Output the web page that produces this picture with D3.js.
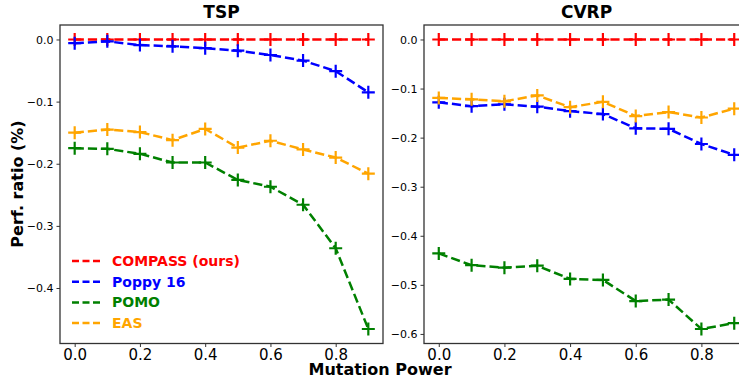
<!DOCTYPE html>
<html>
<head>
<meta charset="utf-8">
<script src="https://cdn.jsdelivr.net/npm/d3@7"></script>
<style>
  body { margin: 0; background: #fff; }
  svg { font-family: "DejaVu Sans", sans-serif; }
</style>
</head>
<body>
<script>
// mutation power levels (shared x values)
const mutation = [0, 0.1, 0.2, 0.3, 0.4, 0.5, 0.6, 0.7, 0.8, 0.9];
const xTicks = [0, 0.2, 0.4, 0.6, 0.8];

const seriesNames = ['COMPASS (ours)', 'Poppy 16', 'POMO', 'EAS'];
const seriesColors = ['red', 'blue', 'green', 'orange'];

// TSP
const tspCompass = [0, 0, 0, 0, 0, 0, 0, 0, 0, 0];
const tspPoppy = [-0.006, -0.003, -0.009, -0.011, -0.014, -0.018, -0.025, -0.034, -0.051, -0.085];
const tspPomo = [-0.175, -0.176, -0.184, -0.198, -0.198, -0.226, -0.237, -0.266, -0.336, -0.466];
const tspEas = [-0.150, -0.145, -0.149, -0.162, -0.144, -0.174, -0.163, -0.177, -0.190, -0.216];
const tspTicks = [0, -0.1, -0.2, -0.3, -0.4];

// CVRP
const cvrpCompass = [0, 0, 0, 0, 0, 0, 0, 0, 0, 0];
const cvrpPoppy = [-0.128, -0.136, -0.132, -0.137, -0.146, -0.152, -0.181, -0.182, -0.213, -0.235];
const cvrpPomo = [-0.436, -0.460, -0.465, -0.461, -0.488, -0.490, -0.533, -0.530, -0.590, -0.578];
const cvrpEas = [-0.119, -0.122, -0.126, -0.114, -0.138, -0.127, -0.156, -0.148, -0.159, -0.141];
const cvrpTicks = [0, -0.1, -0.2, -0.3, -0.4, -0.5, -0.6];

const width = 739, height = 379;
const svg = d3.select('body').append('svg')
  .attr('width', width)
  .attr('height', height);

const plotTop = 25, plotBottom = 343.5;

function panel(opts) {
  const { left, right, title, series, ticks, legend } = opts;

  const x = d3.scaleLinear().domain([-0.045, 0.945]).range([left, right]);
  const all = series.flat();
  const lo = d3.min(all), hi = d3.max(all);
  const pad = (hi - lo) * 0.05;
  const y = d3.scaleLinear().domain([lo - pad, hi + pad]).range([plotBottom, plotTop]);

  const clipId = 'clip' + title;
  svg.append('clipPath').attr('id', clipId)
    .append('rect')
    .attr('x', left).attr('y', plotTop)
    .attr('width', right - left).attr('height', plotBottom - plotTop);

  const g = svg.append('g');

  // axes
  const xAxis = g.append('g')
    .attr('transform', `translate(0,${plotBottom})`)
    .call(d3.axisBottom(x).tickValues(xTicks).tickSize(3.5).tickPadding(2.5)
      .tickFormat(d3.format('.1f')));
  xAxis.selectAll('text').attr('font-size', 15).attr('fill', '#000')
    .attr('font-family', 'DejaVu Sans');
  xAxis.select('.domain').remove();

  const yAxis = g.append('g')
    .attr('transform', `translate(${left},0)`)
    .call(d3.axisLeft(y).tickValues(ticks).tickSize(3.5).tickPadding(3)
      .tickFormat(d => d === 0 ? '0.0' : d3.format('.1f')(d).replace('-', '\u2212')));
  yAxis.selectAll('text').attr('font-size', 11).attr('fill', '#000')
    .attr('font-family', 'DejaVu Sans');
  yAxis.select('.domain').remove();
  g.selectAll('.tick line').attr('stroke', '#333');

  // lines and markers
  const line = d3.line().x((d, i) => x(mutation[i])).y(d => y(d));
  const plot = g.append('g').attr('clip-path', `url(#${clipId})`);
  series.forEach((vals, k) => {
    plot.append('path')
      .datum(vals)
      .attr('fill', 'none')
      .attr('stroke', seriesColors[k])
      .attr('stroke-width', 2.5)
      .attr('stroke-dasharray', '9.2,4')
      .attr('d', line);
    plot.selectAll(null)
      .data(vals)
      .enter()
      .append('path')
      .attr('transform', (d, i) => `translate(${x(mutation[i])},${y(d)})`)
      .attr('d', 'M-6.5,0H6.5M0,-6.5V6.5')
      .attr('stroke', seriesColors[k])
      .attr('stroke-width', 2.2);
  });

  // frame
  g.append('rect')
    .attr('x', left).attr('y', plotTop)
    .attr('width', right - left).attr('height', plotBottom - plotTop)
    .attr('fill', 'none')
    .attr('stroke', '#333')
    .attr('stroke-width', 1.3);

  g.append('text')
    .attr('x', (left + right) / 2)
    .attr('y', 18)
    .attr('text-anchor', 'middle')
    .attr('font-size', 17)
    .attr('font-weight', 'bold')
    .text(title);

  if (legend) {
    seriesNames.forEach((name, k) => {
      const ly = 261 + k * 20.7;
      g.append('line')
        .attr('x1', left + 12).attr('x2', left + 40)
        .attr('y1', ly).attr('y2', ly)
        .attr('stroke', seriesColors[k])
        .attr('stroke-width', 2.5)
        .attr('stroke-dasharray', '7,3.5');
      g.append('text')
        .attr('x', left + 52)
        .attr('y', ly + 5)
        .attr('font-size', 14)
        .attr('font-weight', 'bold')
        .attr('fill', seriesColors[k])
        .text(name);
    });
  }
}

panel({
  left: 60, right: 383, title: 'TSP',
  series: [tspCompass, tspPoppy, tspPomo, tspEas],
  ticks: tspTicks, legend: true
});

panel({
  left: 424, right: 749, title: 'CVRP',
  series: [cvrpCompass, cvrpPoppy, cvrpPomo, cvrpEas],
  ticks: cvrpTicks, legend: false
});

svg.append('text')
  .attr('transform', 'translate(23,184) rotate(-90)')
  .attr('text-anchor', 'middle')
  .attr('font-size', 16)
  .attr('font-weight', 'bold')
  .text('Perf. ratio (%)');

svg.append('text')
  .attr('x', 380)
  .attr('y', 374.5)
  .attr('text-anchor', 'middle')
  .attr('font-size', 16)
  .attr('font-weight', 'bold')
  .text('Mutation Power');
</script>
</body>
</html>
